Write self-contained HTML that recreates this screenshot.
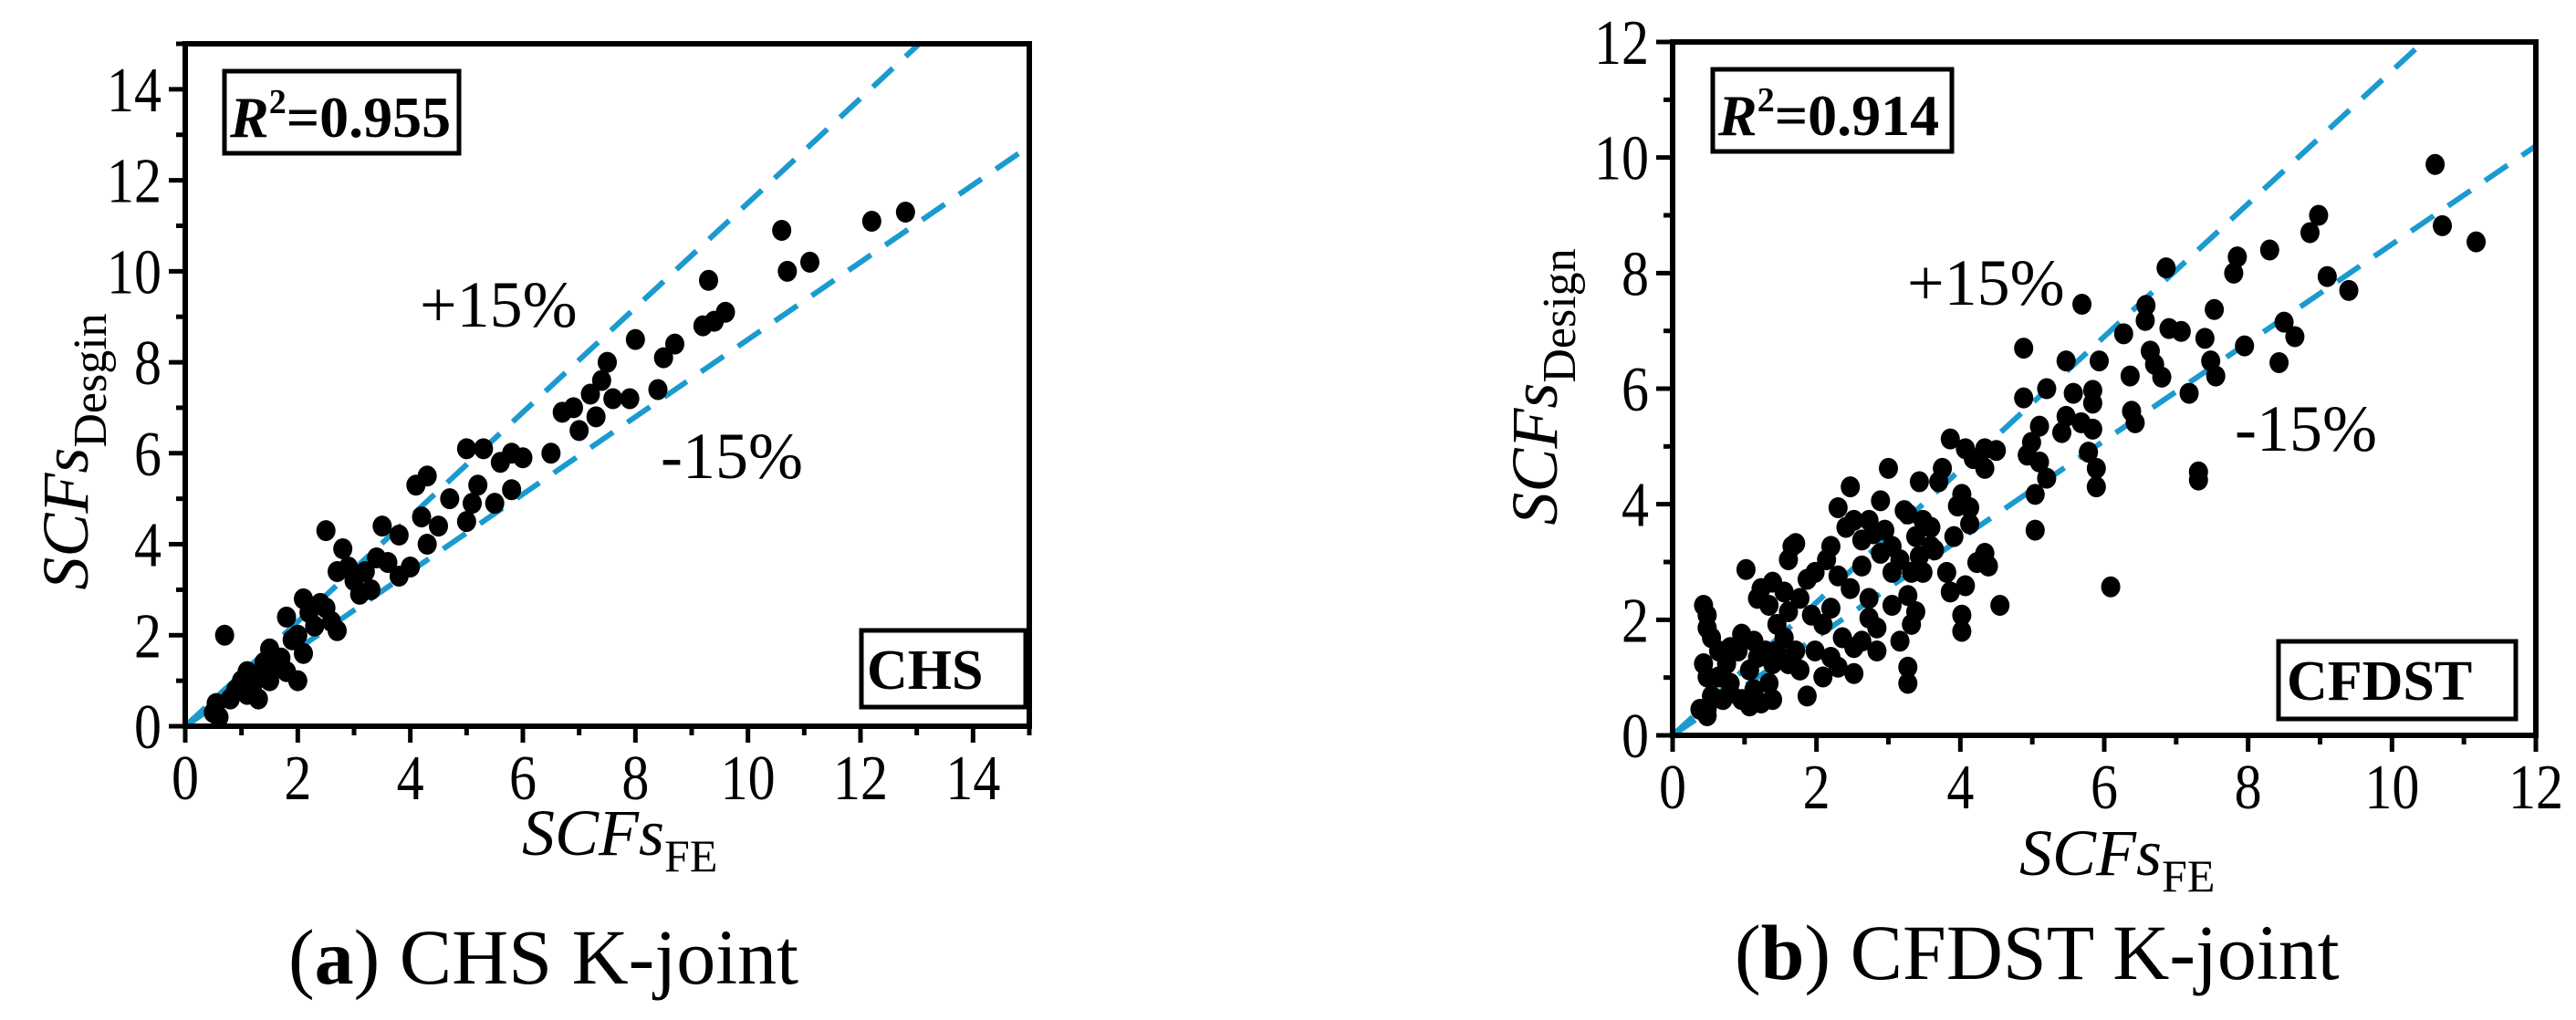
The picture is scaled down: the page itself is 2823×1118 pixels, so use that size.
<!DOCTYPE html>
<html><head><meta charset="utf-8"><style>
html,body{margin:0;padding:0;background:#fff;}
svg{display:block;font-family:"Liberation Serif",serif;}
</style></head><body>
<svg id="fig" width="2823" height="1118" viewBox="0 0 2823 1118" font-family="Liberation Serif, serif" xmlns="http://www.w3.org/2000/svg"></svg>
<script>
const leftTicks=[0,2,4,6,8,10,12,14];
const rightTicks=[0,2,4,6,8,10,12];
const leftFE=[0.5,0.55,0.6,0.7,0.8,0.9,1.0,1.1,1.1,1.2,1.3,1.3,1.4,1.5,1.5,1.6,1.7,1.8,1.8,1.9,2.0,2.0,2.1,2.1,2.2,2.3,2.4,2.5,2.5,2.6,2.7,2.7,2.8,2.9,3.0,3.1,3.2,3.3,3.4,3.5,3.6,3.8,3.8,4.0,4.1,4.2,4.3,4.3,4.5,4.7,5.0,5.0,5.1,5.2,5.3,5.5,5.6,5.8,5.8,6.0,6.5,6.7,6.9,7.0,7.2,7.3,7.4,7.5,7.6,7.9,8.0,8.4,8.5,8.7,9.2,9.3,9.4,9.6,10.6,10.7,11.1,12.2,12.8];
const leftDesign=[0.3,0.5,0.2,2.0,0.6,0.8,1.0,1.2,0.7,0.9,1.1,0.6,1.4,1.7,1.0,1.3,1.5,2.4,1.2,1.9,2.0,1.0,2.8,1.6,2.5,2.2,2.7,4.3,2.6,2.3,3.4,2.1,3.9,3.5,3.2,2.9,3.4,3.0,3.7,4.4,3.6,3.3,4.2,3.5,5.3,4.6,5.5,4.0,4.4,5.0,6.1,4.5,4.9,5.3,6.1,4.9,5.8,5.2,6.0,5.9,6.0,6.9,7.0,6.5,7.3,6.8,7.6,8.0,7.2,7.2,8.5,7.4,8.1,8.4,8.8,9.8,8.9,9.1,10.9,10.0,10.2,11.1,11.3];
const rightFE=[10.6,10.7,11.17,8.98,8.86,9.1,9.4,8.3,7.85,7.8,8.5,8.65,8.43,7.95,7.53,7.4,7.48,7.55,7.18,7.31,7.31,6.86,6.58,6.57,6.9,7.07,6.27,6.64,6.7,6.8,6.36,6.38,6.43,5.69,4.88,5.93,5.47,5.2,4.88,5.57,5.84,5.84,5.47,5.68,5.84,5.41,5.1,4.99,5.1,5.2,4.93,5.04,5.78,5.89,5.89,5.04,6.09,4.55,3.86,4.07,4.34,4.5,4.18,4.34,3.75,3.7,3.0,3.43,2.47,2.3,2.89,3.22,4.02,4.13,3.96,4.13,3.59,3.91,3.64,4.34,4.23,4.39,4.07,4.02,4.02,3.81,3.86,3.43,3.32,3.27,3.38,3.32,3.16,3.27,3.27,2.84,3.05,2.73,2.63,2.89,3.05,3.16,2.63,2.41,2.52,2.2,2.14,1.98,2.3,2.47,2.73,2.84,2.63,2.36,2.52,2.52,2.2,1.98,2.09,2.2,1.93,1.77,1.61,1.66,1.71,1.87,1.61,1.39,1.23,1.02,1.18,1.34,1.45,1.55,1.71,1.77,1.87,1.61,1.39,1.34,1.39,1.23,1.13,1.07,0.91,0.8,0.96,1.13,1.29,1.18,0.75,0.64,0.8,0.7,0.54,0.48,0.38,0.48,0.43,0.48,0.43,0.48,0.48,0.54,0.8,0.96,1.07,1.45,2.09,2.3,1.55,0.64,3.27,3.48,2.73,2.79,2.95,3.05,3.48,3.59,3.38];
const rightDesign=[9.88,8.82,8.54,9.0,8.7,7.94,7.7,8.4,8.28,8.0,7.15,6.9,6.45,6.74,7.37,6.87,6.48,6.22,5.92,4.56,4.42,8.09,7.44,7.18,7.04,6.99,6.95,6.65,6.42,6.2,6.22,5.61,5.41,7.46,6.7,6.48,6.48,6.0,5.84,5.92,5.97,5.75,5.52,5.41,5.3,5.24,5.35,5.07,4.73,4.45,4.85,4.17,4.9,4.62,4.3,3.55,2.57,2.25,5.13,4.96,4.96,4.93,4.79,4.62,4.62,4.39,4.62,4.39,4.3,3.94,4.06,3.89,4.17,3.94,3.97,3.66,3.6,3.44,3.21,3.15,2.99,2.93,2.59,2.08,1.8,2.82,2.48,3.1,2.82,2.42,2.14,1.92,1.63,1.18,0.9,1.46,2.25,2.37,2.93,3.15,3.27,3.04,3.38,3.6,3.72,3.27,3.04,2.82,2.76,2.54,2.03,1.86,1.63,1.69,1.52,1.07,1.35,1.46,1.92,2.2,2.08,2.37,3.04,3.27,3.32,2.7,2.14,2.65,2.54,2.87,2.37,2.25,1.92,1.69,1.46,1.13,0.68,1.24,1.24,0.9,0.62,0.56,0.79,1.13,1.46,1.52,1.75,1.63,1.46,1.35,1.24,1.01,0.9,0.62,0.68,0.45,0.45,0.34,1.24,1.01,2.25,2.08,1.86,1.69,0.73,0.62,0.51,1.46,1.01,1.18,2.48,1.46,3.83,3.72,3.72,3.49,3.55,2.82,2.82,3.27,3.44];

const NS='http://www.w3.org/2000/svg';
const svg=document.getElementById('fig');
function mk(tag,attrs,parent){const e=document.createElementNS(NS,tag);for(const k in attrs)e.setAttribute(k,attrs[k]);(parent||svg).appendChild(e);return e;}

function panel(cfg){
  const g=mk('g',{});
  
  
  const sx=v=>cfg.x0+(v/cfg.max)*(cfg.x1-cfg.x0);
  const sy=v=>cfg.y0-(v/cfg.max)*(cfg.y0-cfg.y1);
  [1.15,0.85].forEach((k,i)=>{
    let xe=cfg.max, ye=k*cfg.max; if(ye>cfg.max){ye=cfg.max;xe=cfg.max/k;}
    const l=mk('line',{x1:sx(0),y1:sy(0),x2:sx(xe),y2:sy(ye),stroke:'#1b9ad0','stroke-width':6,'stroke-dasharray':'30 19'},g);
    
    
  });
  cfg.fe.forEach((v,i)=>{
    const c=mk('ellipse',{cx:sx(v),cy:sy(cfg.de[i]),rx:10.5,ry:11.5,fill:'#000'},g);
    
    
  });
  const fr=mk('rect',{x:cfg.x0,y:cfg.y1,width:cfg.x1-cfg.x0,height:cfg.y0-cfg.y1,fill:'none',stroke:'#000','stroke-width':6},g);
  
  
  for(let v=0;v<=cfg.max;v++){
    const major=v%2===0, len=major?18:10;
    const tx=mk('line',{x1:sx(v),x2:sx(v),y1:cfg.y0,y2:cfg.y0+len,stroke:'#000','stroke-width':5},g);
    
    
    const ty=mk('line',{x1:cfg.x0,x2:cfg.x0-len,y1:sy(v),y2:sy(v),stroke:'#000','stroke-width':5},g);
    
    
  }
  cfg.ticks.forEach(v=>{
    const a=mk('text',{x:sx(v),y:cfg.y0+80,'font-size':70,'text-anchor':'middle','textLength':(String(v).length*30),'lengthAdjust':'spacingAndGlyphs'},g);a.textContent=v;
    
    
    const b=mk('text',{x:cfg.x0-26,y:sy(v)+24,'font-size':70,'text-anchor':'end','textLength':(String(v).length*30),'lengthAdjust':'spacingAndGlyphs'},g);b.textContent=v;
    
    
  });
}
panel({name:'chs-panel',x0:203,x1:1128,y0:796,y1:48,max:15,ticks:leftTicks,fe:leftFE,de:leftDesign});
panel({name:'cfdst-panel',x0:1833,x1:2779,y0:806,y1:46,max:12,ticks:rightTicks,fe:rightFE,de:rightDesign});
</script>
<script>
(function(){
const s=document.getElementById('fig');
s.insertAdjacentHTML('beforeend',`
<g>
<rect x="246" y="78" width="257" height="90" fill="#fff" stroke="#000" stroke-width="5"/>
<text x="252" y="150" font-size="64" font-weight="bold"><tspan font-style="italic">R</tspan><tspan font-size="38" dy="-26">2</tspan><tspan dy="26">=0.955</tspan></text>
<text x="460" y="358" font-size="72">+15%</text>
<text x="724" y="524" font-size="72">-15%</text>
<rect x="944" y="691" width="180" height="84" fill="#fff" stroke="#000" stroke-width="5"/>
<text x="950" y="755" font-size="62" font-weight="bold">CHS</text>
<text x="572" y="937" font-size="72"><tspan font-style="italic">SCFs</tspan><tspan font-size="50" dy="18">FE</tspan></text>
<text transform="translate(96,495) rotate(-90)" font-size="72" text-anchor="middle"><tspan font-style="italic">SCFs</tspan><tspan font-size="52" dy="20">Desgin</tspan></text>
<text x="316" y="1078" font-size="86">(<tspan font-weight="bold">a</tspan>) CHS K-joint</text>
</g>
<g>
<rect x="1877" y="76" width="262" height="90" fill="#fff" stroke="#000" stroke-width="5"/>
<text x="1883" y="148" font-size="64" font-weight="bold"><tspan font-style="italic">R</tspan><tspan font-size="38" dy="-26">2</tspan><tspan dy="26">=0.914</tspan></text>
<text x="2090" y="334" font-size="72">+15%</text>
<text x="2449" y="494" font-size="72">-15%</text>
<rect x="2497" y="703" width="260" height="85" fill="#fff" stroke="#000" stroke-width="5"/>
<text x="2506" y="767" font-size="62" font-weight="bold">CFDST</text>
<text x="2213" y="959" font-size="72"><tspan font-style="italic">SCFs</tspan><tspan font-size="50" dy="18">FE</tspan></text>
<text transform="translate(1706,424) rotate(-90)" font-size="72" text-anchor="middle"><tspan font-style="italic">SCFs</tspan><tspan font-size="52" dy="20">Design</tspan></text>
<text x="1901" y="1073" font-size="86">(<tspan font-weight="bold">b</tspan>) CFDST K-joint</text>
</g>`);
})();
</script>
</body></html>
